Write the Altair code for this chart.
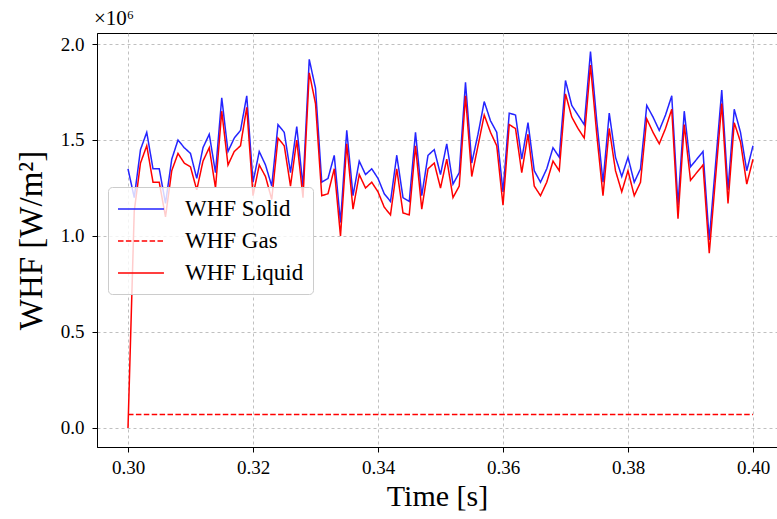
import altair as alt
import pandas as pd

TIME = [0.300, 0.301, 0.302, 0.303, 0.304, 0.305, 0.306, 0.307, 0.308, 0.309,
        0.310, 0.311, 0.312, 0.313, 0.314, 0.315, 0.316, 0.317, 0.318, 0.319,
        0.320, 0.321, 0.322, 0.323, 0.324, 0.325, 0.326, 0.327, 0.328, 0.329,
        0.330, 0.331, 0.332, 0.333, 0.334, 0.335, 0.336, 0.337, 0.338, 0.339,
        0.340, 0.341, 0.342, 0.343, 0.344, 0.345, 0.346, 0.347, 0.348, 0.349,
        0.350, 0.351, 0.352, 0.353, 0.354, 0.355, 0.356, 0.357, 0.358, 0.359,
        0.360, 0.361, 0.362, 0.363, 0.364, 0.365, 0.366, 0.367, 0.368, 0.369,
        0.370, 0.371, 0.372, 0.373, 0.374, 0.375, 0.376, 0.377, 0.378, 0.379,
        0.380, 0.381, 0.382, 0.383, 0.384, 0.385, 0.386, 0.387, 0.388, 0.389,
        0.390, 0.391, 0.392, 0.393, 0.394, 0.395, 0.396, 0.397, 0.398, 0.399,
        0.400]

# values in units of 1e6 W/m^2
SOLID = [1.35, 1.20, 1.45, 1.54, 1.35, 1.35, 1.17, 1.40, 1.50, 1.46,
         1.43, 1.30, 1.46, 1.53, 1.33, 1.72, 1.44, 1.51, 1.55, 1.73,
         1.28, 1.44, 1.37, 1.26, 1.58, 1.54, 1.33, 1.57, 1.26, 1.92,
         1.77, 1.28, 1.30, 1.42, 1.07, 1.55, 1.21, 1.39, 1.32, 1.35,
         1.30, 1.22, 1.18, 1.42, 1.20, 1.18, 1.54, 1.21, 1.42, 1.45,
         1.32, 1.48, 1.27, 1.33, 1.80, 1.38, 1.53, 1.70, 1.60, 1.54,
         1.23, 1.64, 1.63, 1.40, 1.59, 1.34, 1.28, 1.35, 1.46, 1.41,
         1.81, 1.68, 1.63, 1.58, 1.96, 1.60, 1.28, 1.64, 1.41, 1.31,
         1.41, 1.28, 1.35, 1.68, 1.62, 1.55, 1.63, 1.73, 1.16, 1.65,
         1.36, 1.40, 1.44, 0.98, 1.37, 1.76, 1.24, 1.66, 1.54, 1.34,
         1.47]

GAS = [0.07, 0.07, 0.07, 0.07, 0.07, 0.07, 0.07, 0.07, 0.07, 0.07,
       0.07, 0.07, 0.07, 0.07, 0.07, 0.07, 0.07, 0.07, 0.07, 0.07,
       0.07, 0.07, 0.07, 0.07, 0.07, 0.07, 0.07, 0.07, 0.07, 0.07,
       0.07, 0.07, 0.07, 0.07, 0.07, 0.07, 0.07, 0.07, 0.07, 0.07,
       0.07, 0.07, 0.07, 0.07, 0.07, 0.07, 0.07, 0.07, 0.07, 0.07,
       0.07, 0.07, 0.07, 0.07, 0.07, 0.07, 0.07, 0.07, 0.07, 0.07,
       0.07, 0.07, 0.07, 0.07, 0.07, 0.07, 0.07, 0.07, 0.07, 0.07,
       0.07, 0.07, 0.07, 0.07, 0.07, 0.07, 0.07, 0.07, 0.07, 0.07,
       0.07, 0.07, 0.07, 0.07, 0.07, 0.07, 0.07, 0.07, 0.07, 0.07,
       0.07, 0.07, 0.07, 0.07, 0.07, 0.07, 0.07, 0.07, 0.07, 0.07,
       0.07]

LIQUID = [0.00, 1.13, 1.38, 1.47, 1.28, 1.28, 1.10, 1.34, 1.43, 1.38,
          1.36, 1.24, 1.39, 1.46, 1.25, 1.65, 1.37, 1.44, 1.47, 1.67,
          1.21, 1.37, 1.31, 1.19, 1.51, 1.47, 1.26, 1.50, 1.20, 1.85,
          1.69, 1.21, 1.22, 1.35, 1.00, 1.48, 1.14, 1.32, 1.25, 1.28,
          1.23, 1.15, 1.11, 1.35, 1.12, 1.11, 1.47, 1.14, 1.35, 1.38,
          1.25, 1.40, 1.20, 1.26, 1.73, 1.31, 1.47, 1.63, 1.54, 1.47,
          1.16, 1.58, 1.56, 1.33, 1.53, 1.26, 1.21, 1.28, 1.39, 1.34,
          1.74, 1.62, 1.56, 1.51, 1.89, 1.53, 1.21, 1.56, 1.34, 1.23,
          1.34, 1.21, 1.28, 1.61, 1.54, 1.48, 1.56, 1.66, 1.09, 1.58,
          1.29, 1.33, 1.37, 0.91, 1.30, 1.69, 1.17, 1.59, 1.49, 1.27,
          1.40]

SERIES = ["WHF Solid", "WHF Gas", "WHF Liquid"]
COLORS = ["#2424ff", "#ff0000", "#ff0000"]
DASHES = [[1, 0], [5.5, 2.4], [1, 0]]

X_TICKS = [0.30, 0.32, 0.34, 0.36, 0.38, 0.40]
Y_TICKS = [0.0, 0.5, 1.0, 1.5, 2.0]

records = []
for name, vals in zip(SERIES, [SOLID, GAS, LIQUID]):
    for t, v in zip(TIME, vals):
        records.append({"time": t, "value": v, "series": name})
df = pd.DataFrame(records)

FONT = "Liberation Serif"


def make_legend():
    return alt.Legend(
        title=None, orient="none", legendX=11, legendY=154,
        symbolType="M-1,0H2.83", symbolSize=576, symbolStrokeWidth=1.5,
        labelFont=FONT, labelFontSize=23, labelColor="black",
        rowPadding=7, padding=9, labelOffset=42,
        fillColor="rgba(255,255,255,0.8)", strokeColor="#cccccc",
        cornerRadius=4,
    )


color = alt.Color("series:N", scale=alt.Scale(domain=SERIES, range=COLORS),
                  legend=make_legend())
dash = alt.StrokeDash("series:N", scale=alt.Scale(domain=SERIES, range=DASHES),
                      legend=make_legend())

x = alt.X("time:Q",
          scale=alt.Scale(domain=[0.29504, 0.40384], nice=False, zero=False),
          axis=alt.Axis(values=X_TICKS, format=".2f", title="Time [s]"))
y = alt.Y("value:Q",
          scale=alt.Scale(domain=[-0.099, 2.0573], nice=False, zero=False),
          axis=alt.Axis(values=Y_TICKS, format=".1f", title="WHF [W/m²]"))

layers = []
for name in SERIES:
    layers.append(
        alt.Chart(df).transform_filter(alt.datum.series == name)
        .mark_line(strokeWidth=1.5, clip=True)
        .encode(x=x, y=y, color=color, strokeDash=dash)
    )

chart = alt.layer(*layers).properties(
    width=680, height=414,
    autosize="none",
    padding={"left": 97, "top": 33, "right": 0, "bottom": 72},
    title=alt.TitleParams("×10⁶", anchor="start", frame="group", font=FONT,
                          fontSize=21, fontWeight="normal", offset=4, dx=-3),
).configure_view(
    stroke="black", strokeWidth=1
).configure_axis(
    labelFont=FONT, labelFontSize=19, labelColor="black",
    titleFont=FONT, titleFontSize=30, titleFontWeight="normal", titleColor="black",
    domainColor="black", tickColor="black", tickSize=5,
    grid=True, gridColor="#b0b0b0", gridDash=[3, 3], gridWidth=0.8,
).configure_axisX(
    titlePadding=4, labelPadding=6,
).configure_axisY(
    titlePadding=12, labelPadding=8, titleFontSize=33,
)

chart.save("out.html", embed_options={"renderer": "svg", "actions": False})
